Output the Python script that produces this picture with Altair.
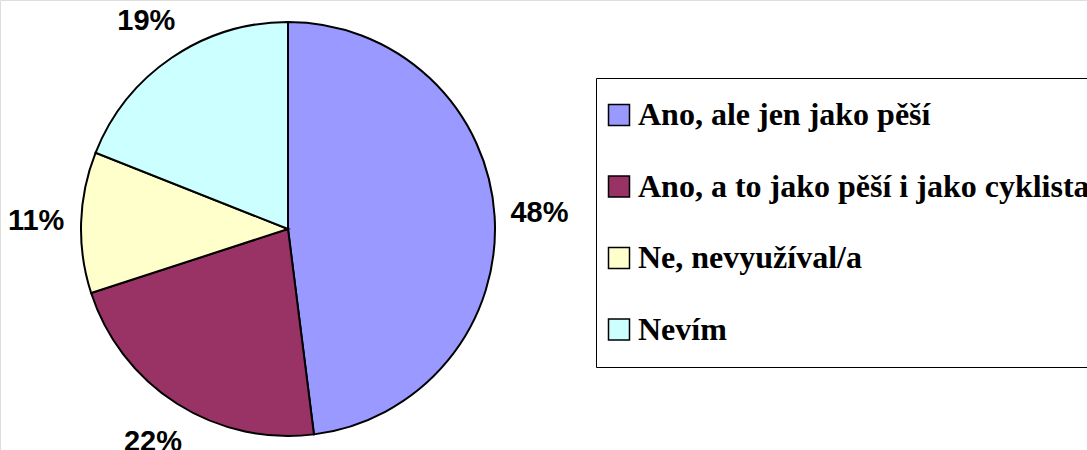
import altair as alt
import pandas as pd

labels = ["Ano, ale jen jako pěší", "Ano, a to jako pěší i jako cyklista",
          "Ne, nevyužíval/a", "Nevím"]
values = [48, 22, 11, 19]
pct_text = ["48%", "22%", "11%", "19%"]
colors = ["#9999FF", "#993366", "#FFFFCC", "#CCFFFF"]
order_idx = [0, 1, 2, 3]

df = pd.DataFrame({"label": labels, "value": values, "pct": pct_text, "idx": order_idx})

cx, cy = 288, 229

base = alt.Chart(df).encode(
    theta=alt.Theta("value:Q", stack=True),
    order=alt.Order("idx:Q"),
    x=alt.value(cx),
    y=alt.value(cy),
)

pie = base.mark_arc(outerRadius=207, stroke="black", strokeWidth=2).encode(
    color=alt.Color(
        "label:N",
        sort=labels,
        scale=alt.Scale(domain=labels, range=colors),
        title=None,
        legend=alt.Legend(
            orient="none",
            legendX=596,
            legendY=78,
            direction="vertical",
            symbolType="square",
            symbolSize=441,
            symbolStrokeColor="black",
            symbolStrokeWidth=1.5,
            symbolOffset=-14,
            labelFont="Liberation Serif",
            labelFontSize=32,
            labelFontWeight="bold",
            labelColor="black",
            labelOffset=3,
            labelLimit=0,
            rowPadding=39.5,
            padding=21,
            strokeColor="black",
            fillColor="white",
        ),
    )
)

text = base.mark_text(
    radius=252, font="Liberation Sans", fontSize=29, fontWeight="bold",
    color="black", align="center", baseline="middle"
).encode(text="pct:N")

chart = (pie + text).properties(
    width=1087, height=450, autosize=alt.AutoSizeParams(type="none"), padding=0
).configure_view(strokeWidth=0).configure_legend(strokeWidth=2).configure(background="white")

chart.save("out.html", embed_options={"renderer": "svg", "actions": False})
